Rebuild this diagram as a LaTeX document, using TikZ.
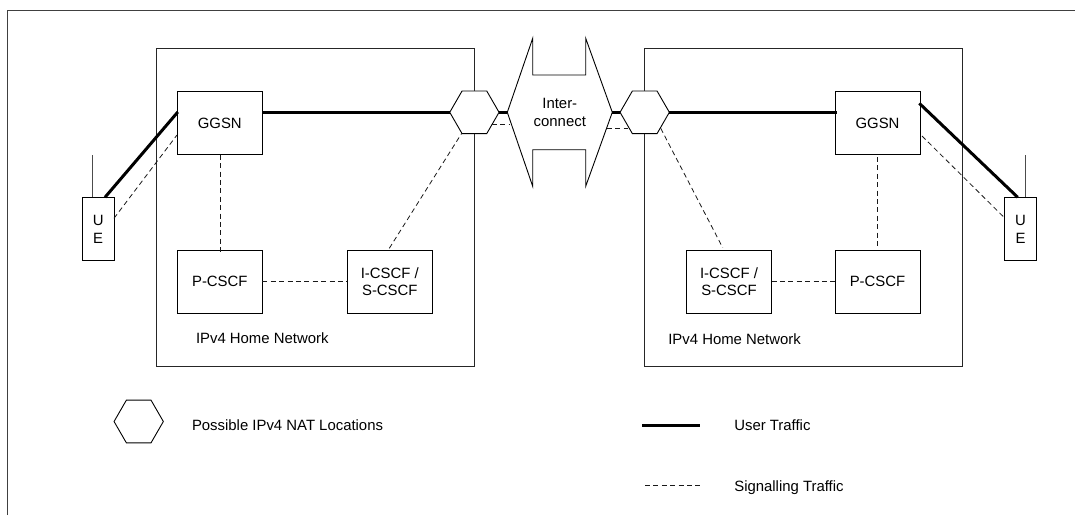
\documentclass[tikz,border=0pt]{standalone}
\usepackage{fontspec}
\setmainfont{Liberation Sans}
\usetikzlibrary{shapes.geometric}
\tikzset{
  x=1pt,y=-1pt,
  every node/.style={font=\fontsize{14.9}{17.8}\selectfont,inner sep=0pt,outer sep=0pt},
  frameline/.style={draw=black!75,line width=1pt},
  netbox/.style={draw=black!85,line width=.9pt,rectangle,minimum width=318.3pt,minimum height=318pt},
  elem/.style={draw=black,line width=.9pt,rectangle,minimum width=85pt,minimum height=63.3pt,align=center},
  uebox/.style={draw=black,line width=.9pt,rectangle,minimum width=31.7pt,minimum height=63.4pt,align=center},
  hexa/.style={draw=black,line width=.9pt,regular polygon,regular polygon sides=6,minimum size=49.3pt},
  antenna/.style={draw=black!70,line width=.9pt},
  usertraffic/.style={draw=black,line width=3pt},
  sigtraffic/.style={draw=black!90,line width=.8pt,dash pattern=on 5pt off 3.4pt},
  label/.style={anchor=west},
}
\begin{document}
\begin{tikzpicture}
\useasboundingbox (0,0) rectangle (1075,515);
\draw[frameline] (7.6,515) -- (7.6,10) -- (1075,10);

% home networks
\node[netbox,minimum height=318pt] (netL) at (315.2,207.5) {};
\node[netbox,minimum height=318pt] (netR) at (803.2,207.5) {};

% interconnect
\draw[black,line width=.9pt,fill=white]
  (507.3,112.3) -- (532.7,38.3) -- (532.7,75) -- (585.7,75) -- (585.7,38.3)
  -- (612.3,112.3) -- (585.7,186.3) -- (585.7,149.7) -- (532.7,149.7) -- (532.7,186.3) -- cycle;
\node[minimum width=105pt,minimum height=148pt,align=center] (ic) at (559.8,112.3) {Inter-\\connect};

% elements, left
\node[elem] (gL) at (219.8,123.2) {GGSN};
\node[elem] (pL) at (219.8,281.7) {P-CSCF};
\node[elem] (iL) at (389.8,281.7) {I-CSCF /\\S-CSCF};
\node[uebox] (uL) at (98.2,229) {U\\E};
\node[hexa,fill=white] (hL) at (474.4,112.3) {};

% elements, right
\node[elem] (gR) at (877.5,123.2) {GGSN};
\node[elem] (pR) at (877.5,281.7) {P-CSCF};
\node[elem] (iR) at (729,281.7) {I-CSCF /\\S-CSCF};
\node[uebox] (uR) at (1020.5,229) {U\\E};
\node[hexa,fill=white] (hR) at (644.7,112.3) {};

% antennas
\coordinate (atL) at (92.7,155);
\coordinate (atR) at (1025.7,155);
\draw[antenna] (atL) -- (atL |- uL.north);
\draw[antenna] (atR) -- (atR |- uR.north);

% anchor points on the shapes
\coordinate (uLt) at (105,197.3);
\coordinate (gLt) at (177.8,112);
\coordinate (uRt) at (1017.7,197.3);
\coordinate (gRt) at (919.3,103.3);
\coordinate (uLs) at (114,218.3);
\coordinate (gLs) at (177,135);
\coordinate (uRs) at (1004.7,218);
\coordinate (gRs) at (922,136);
\coordinate (iLs) at (389.3,248.3);
\coordinate (hLs) at (461.7,133.3);
\coordinate (iRs) at (722.7,247.7);
\coordinate (hRs) at (660.7,128.3);
\coordinate (hLi) at (491.7,124);
\coordinate (icL) at (510,124);
\coordinate (icR) at (606.7,128);
\coordinate (hRi) at (628,128);
\coordinate (gLb) at (220,154.7);
\coordinate (pLt) at (220,251.5);
\coordinate (gRb) at (877.3,157);
\coordinate (pRt) at (877.3,248);

% user traffic
\draw[usertraffic] (uLt) -- (gLt);
\draw[usertraffic] (gL.east |- hL.west) -- (hL.west);
\draw[usertraffic] (hL.east) -- (ic.west);
\draw[usertraffic] (ic.east) -- (hR.west);
\draw[usertraffic] (hR.east) -- ([xshift=2pt]gR.west |- hR.east);
\draw[usertraffic] (gRt) -- (uRt);

% signalling traffic
\draw[sigtraffic] (uLs) -- (gLs);
\draw[sigtraffic] (gLb) -- (pLt);
\draw[sigtraffic] (pL.east) -- (iL.west);
\draw[sigtraffic] (iLs) -- (hLs);
\draw[sigtraffic] (hLi) -- (icL);
\draw[sigtraffic] (icR) -- (hRi);
\draw[sigtraffic] (hRs) -- (iRs);
\draw[sigtraffic] (iR.east) -- (pR.west);
\draw[sigtraffic] (gRb) -- (pRt);
\draw[sigtraffic] (gRs) -- (uRs);

% captions
\node[label] (capL) at (196,338.5) {IPv4 Home Network};
\node[label] (capR) at (668.3,339) {IPv4 Home Network};

% legend
\node[hexa] (lgH) at (138.7,421.5) {};
\node[label] (lgHt) at (192,425) {Possible IPv4 NAT Locations};
\coordinate (lgUa) at (642,425);
\coordinate (lgUb) at (700,425);
\draw[usertraffic] (lgUa) -- (lgUb);
\node[label] (lgUt) at (734.3,425) {User Traffic};
\coordinate (lgSa) at (645,485.7);
\coordinate (lgSb) at (700,485.7);
\draw[sigtraffic] (lgSa) -- (lgSb);
\node[label] (lgSt) at (734.3,488) {Signalling Traffic};
\end{tikzpicture}
\end{document}
